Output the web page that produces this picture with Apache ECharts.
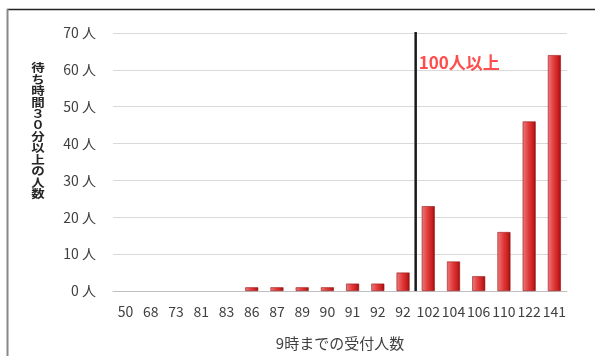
<!DOCTYPE html>
<html>
<head>
<meta charset="utf-8">
<script src="https://cdn.jsdelivr.net/npm/echarts@6/dist/echarts.min.js"></script>
<style>
  html, body { margin: 0; padding: 0; background: #fff; }
  #chart { width: 595px; height: 356px; }
</style>
</head>
<body>
<div id="chart"></div>
<script>
// 9時までの受付人数 (category labels)
const categories = ['50', '68', '73', '81', '83', '86', '87', '89', '90', '91', '92', '92', '102', '104', '106', '110', '122', '141'];
// 待ち時間30分以上の人数
const waitingCounts = [0, 0, 0, 0, 0, 1, 1, 1, 1, 2, 2, 5, 23, 8, 4, 16, 46, 64];
// Divider between the 92 and 102 groups (category boundary index)
const dividerPosition = 12;
const dividerLabel = '100人以上';
const dividerLabelValue = 62;
const yAxisTitle = '待ち時間３０分以上の人数';

const font = '"Noto Sans CJK JP", "Noto Sans", sans-serif';
const chart = echarts.init(document.getElementById('chart'));

const barColor = new echarts.graphic.LinearGradient(0, 0, 1, 0, [
  { offset: 0, color: '#ea7c7c' },
  { offset: 0.45, color: '#e23b3b' },
  { offset: 0.8, color: '#c81e1e' },
  { offset: 1, color: '#8e1010' }
]);

// Empty categories get no outline so nothing is drawn for them
const barData = waitingCounts.map(v => ({
  value: v,
  itemStyle: { borderWidth: v > 0 ? 0.6 : 0 }
}));

chart.setOption({
  animation: false,
  backgroundColor: '#ffffff',
  grid: { left: 113, right: 28, top: 33, bottom: 65 },
  xAxis: [
    {
      type: 'category',
      data: categories,
      axisTick: { show: false },
      axisLine: { lineStyle: { color: '#bfbfbf', width: 1 } },
      axisLabel: { color: '#404040', fontSize: 14, fontFamily: font, margin: 14, interval: 0 },
      name: '9時までの受付人数',
      nameLocation: 'middle',
      nameGap: 45,
      nameTextStyle: { color: '#404040', fontSize: 15, fontFamily: font }
    },
    {
      type: 'value',
      min: 0,
      max: categories.length,
      show: false
    }
  ],
  yAxis: {
    type: 'value',
    min: 0,
    max: 70,
    interval: 10,
    axisLine: { show: false },
    axisTick: { show: false },
    splitLine: { lineStyle: { color: '#d9d9d9', width: 1 } },
    axisLabel: {
      color: '#404040', fontSize: 14, fontFamily: font, margin: 17,
      formatter: v => v + ' 人'
    }
  },
  series: [
    {
      type: 'bar',
      data: barData,
      barWidth: 13,
      itemStyle: { color: barColor, borderColor: '#9a1414' }
    },
    {
      type: 'line',
      xAxisIndex: 1,
      data: [[dividerPosition, 0], [dividerPosition, 70.3]],
      symbol: 'none',
      lineStyle: { color: '#1a1a1a', width: 2.5 },
      silent: true
    },
    {
      type: 'scatter',
      xAxisIndex: 1,
      data: [[dividerPosition, dividerLabelValue]],
      symbolSize: 0,
      label: {
        show: true,
        position: 'right',
        distance: 3,
        formatter: dividerLabel,
        color: '#ff2020',
        fontSize: 17,
        fontWeight: 'bold',
        fontFamily: font
      },
      silent: true
    }
  ],
  graphic: [
    // Frame: dark top edge and grey left edge
    { type: 'line', shape: { x1: 7, y1: 9.5, x2: 595, y2: 9.5 }, style: { stroke: '#222', lineWidth: 1.5 } },
    { type: 'line', shape: { x1: 7.5, y1: 9, x2: 7.5, y2: 356 }, style: { stroke: '#888', lineWidth: 2 } },
    // Vertical y-axis title, one character per line, slightly compressed
    {
      type: 'text',
      x: 38,
      y: 62,
      scaleY: 0.85,
      style: {
        text: yAxisTitle.split('').join('\n'),
        fill: '#262626',
        font: 'bold 13.5px ' + font,
        lineHeight: 13.5,
        align: 'center',
        verticalAlign: 'top'
      }
    }
  ]
});
</script>
</body>
</html>
